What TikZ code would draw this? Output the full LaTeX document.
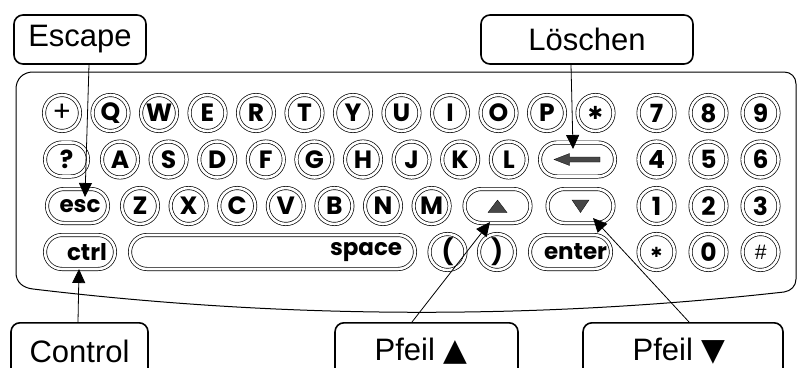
\documentclass[tikz,border=0pt]{standalone}
\usepackage{fontspec}
\setmainfont{Liberation Sans}
\newfontfamily\keyfont{Poppins}
\newfontfamily\symfont{DejaVu Sans}
\usetikzlibrary{arrows.meta}
\definecolor{glyphgray}{HTML}{474747}

\begin{document}
\begin{tikzpicture}[x=1pt,y=-1pt,
  keyring/.style={draw, double, double distance=2.6pt, line width=0.7pt,
    inner sep=0pt, font=\keyfont\bfseries\fontsize{25pt}{25pt}\selectfont},
  roundkey/.style={keyring, circle, minimum size=36pt},
  pillkey/.style={keyring, rectangle, rounded corners=17pt,
    minimum height=34pt, minimum width=#1},
  keylabel/.style={inner sep=0pt, font=\keyfont\bfseries\fontsize{23pt}{23pt}\selectfont},
  callout/.style={draw, line width=1.6pt, rounded corners=9pt, inner sep=0pt},
  calltext/.style={inner sep=0pt, font=\fontsize{31pt}{31pt}\selectfont},
  pointer/.style={line width=0.8pt, -{Triangle[length=14pt,width=13pt]}},
  symfill/.style={fill=glyphgray, draw=black, line width=0.3pt}
]
\useasboundingbox (0,0) rectangle (799,367);
\clip (0,0) rectangle (799,367);

% keyboard housing
\draw[line width=1pt]
  (16,273) -- (16,89) .. controls (16,79) and (23,72) .. (33,72)
  -- (784,72) .. controls (791,72) and (796,77) .. (796,84)
  -- (796,279) .. controls (796,286) and (791,291) .. (784,292)
  .. controls (534,320) and (284,319) .. (33,289)
  .. controls (23,288) and (16,282) .. (16,273) -- cycle;

% row 1
\node[roundkey] (r1-plus) at (62,113) {\mdseries\fontsize{28pt}{28pt}\selectfont +};
\foreach \t [count=\i from 1] in {Q,W,E,R,T,Y,U,I,O,P}
  \node[roundkey] (r1-\i) at (62+48.5*\i,113) {\t};
\node[roundkey] (r1-star) at (595.5,113) {\symfont\fontsize{18pt}{18pt}\selectfont\raisebox{-0.12em}{✱}};

% row 2
\node[pillkey=43pt] (kQuest) at (66.5,159.5) {?};
\foreach \t [count=\i from 0] in {A,S,D,F,G,H,J,K,L}
  \node[roundkey] (r2-\i) at (120+48.6*\i,159.5) {\t};
\node[pillkey=75pt] (kBack) at (577.5,159.5) {};
\filldraw[symfill, shift={(kBack.center)}]
  (-23.5,0) -- (-8,-6) -- (-8,-2.5) -- (22.5,-2.5) -- (22.5,2.5)
  -- (-8,2.5) -- (-8,6) -- cycle;

% row 3
\node[pillkey=61pt] (kEsc) at (77.5,206) {};
\node[keylabel] at ([xshift=2.5pt]kEsc.center) {esc};
\foreach \t [count=\i from 0] in {Z,X,C,V,B,N,M}
  \node[roundkey] (r3-\i) at (140+48.6*\i,206) {\t};
\node[pillkey=66pt] (kUp) at (497.5,206) {};
\filldraw[symfill, shift={(kUp.center)}] (0,-6) -- (9.5,6.5) -- (-9.5,6.5) -- cycle;
\node[pillkey=66pt] (kDown) at (580.5,206) {};
\filldraw[symfill, shift={(kDown.center)}] (0,6.5) -- (8.5,-6) -- (-8.5,-6) -- cycle;

% row 4
\node[pillkey=70pt] (kCtrl) at (80,252) {};
\node[keylabel] at ([xshift=7pt]kCtrl.center) {ctrl};
\node[pillkey=285pt] (kSpace) at (272.5,252) {};
\node[keylabel, anchor=east] at ([xshift=-13pt]kSpace.east) {space};
\node[roundkey] (kOpen) at (447.5,252) {(};
\node[roundkey] (kClose) at (497,252) {)};
\node[pillkey=81pt] (kEnter) at (570.5,252) {};
\node[keylabel] at ([xshift=5pt]kEnter.center) {enter};

% numeric pad
\foreach \t [count=\i from 0] in {7,8,9}
  \node[roundkey] (n1-\i) at (656.5+52*\i,113) {\t};
\foreach \t [count=\i from 0] in {4,5,6}
  \node[roundkey] (n2-\i) at (656.5+52*\i,159.5) {\t};
\foreach \t [count=\i from 0] in {1,2,3}
  \node[roundkey] (n3-\i) at (656.5+52*\i,206) {\t};
\node[roundkey] (n4-0) at (656.5,252) {\symfont\fontsize{14pt}{14pt}\selectfont ✱};
\node[roundkey] (n4-1) at (708.5,252) {0};
\node[roundkey] (n4-2) at (760.5,252) {\rmfamily\mdseries\itshape\fontsize{21pt}{21pt}\selectfont\#};

% callout boxes
\node[callout, minimum width=132pt, minimum height=49pt] (escbox) at (80,39.5) {};
\node[calltext] at (escbox.center) {Escape};
\node[callout, minimum width=212pt, minimum height=49pt] (delbox) at (587,39.5) {};
\node[calltext] at (delbox.center) {Löschen};
\node[callout, minimum width=137pt, minimum height=60pt, anchor=north] (ctrlbox) at (79.5,322) {};
\node[calltext] at (79.5,351) {Control};
\node[callout, minimum width=183pt, minimum height=60pt, anchor=north] (upbox) at (426.5,322) {};
\node[calltext] at (421,351) {Pfeil {\symfont ▲}};
\node[callout, minimum width=200pt, minimum height=60pt, anchor=north] (downbox) at (683,322) {};
\node[calltext] at (679,351) {Pfeil {\symfont ▼}};

% arrow tips inside the keys
\coordinate (escTip) at (85,197);
\coordinate (delTip) at (573,149);
\coordinate (ctrlTip) at (79,269);
\coordinate (upTip) at (490,222);
\coordinate (downTip) at (593,218);

% pointers
\draw[pointer] ([xshift=9pt]escbox.south) -- (escTip);
\draw[pointer] ([xshift=-16pt]delbox.south) -- (delTip);
\draw[pointer] ([xshift=-1.5pt]ctrlbox.north) -- (ctrlTip);
\draw[pointer] ([xshift=-14.5pt]upbox.north) -- (upTip);
\draw[pointer] ([xshift=6pt]downbox.north) -- (downTip);
\end{tikzpicture}
\end{document}
